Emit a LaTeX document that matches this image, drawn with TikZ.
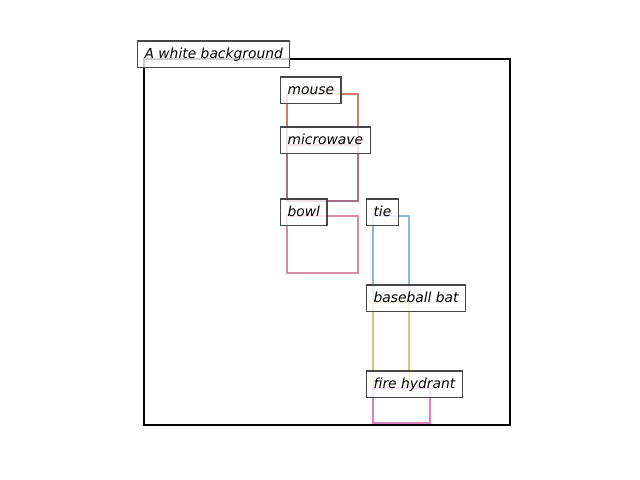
\documentclass[tikz,border=0pt]{standalone}
\usepackage{fontspec}
\setmainfont{DejaVu Sans}
\begin{document}
\begin{tikzpicture}[x=0.01in,y=-0.01in,
  frame/.style={draw=black,line width=1.7pt},
  bbox/.style={line width=1.7pt},
  lab/.style={draw=black!72,line width=0.8pt,fill=white,fill opacity=0.8,text opacity=1,
    anchor=north west,inner xsep=0.07in,inner ysep=0.065in,text height=7.6pt,text depth=2.4pt,
    font=\fontsize{10pt}{12pt}\selectfont\itshape}]
\useasboundingbox (0,0) rectangle (640,480);
\definecolor{cmouse}{HTML}{C5806A}
\definecolor{cmicro}{HTML}{A87088}
\definecolor{cbowl}{HTML}{D68FA5}
\definecolor{ctie}{HTML}{8FB6E2}
\definecolor{cbat}{HTML}{DCC870}
\definecolor{chyd}{HTML}{DC80C4}
\draw[frame] (144,59) rectangle (510,425);
\draw[bbox,cmouse] (287,94) rectangle (358,145);
\draw[bbox,cmicro] (287,145) rectangle (358,201);
\draw[bbox,cbowl] (287,216) rectangle (358,273);
\draw[bbox,ctie] (373,216) rectangle (409,302);
\draw[bbox,cbat] (373,302) rectangle (409,388);
\draw[bbox,chyd] (373,388) rectangle (430,423);
\node[lab] (lbg) at (137,40.5) {A white background};
\node[lab] (lmouse) at (280,76.5) {mouse};
\node[lab] (lmicro) at (280,126.5) {microwave};
\node[lab] (lbowl) at (280,198.5) {bowl};
\node[lab] (ltie) at (366,198.5) {tie};
\node[lab] (lbat) at (366,284.5) {baseball bat};
\node[lab] (lhyd) at (366,370.5) {fire hydrant};
\end{tikzpicture}
\end{document}
